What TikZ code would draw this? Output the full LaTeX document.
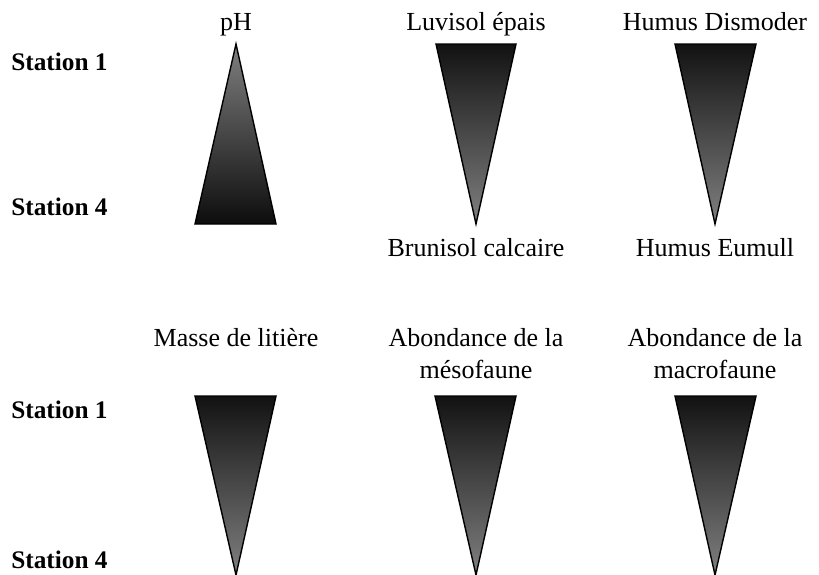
\documentclass[tikz,border=0pt]{standalone}
\usepackage{fontspec}
\setmainfont{Liberation Serif}
\usetikzlibrary{positioning}

\begin{document}
\begin{tikzpicture}[
  x=0.025cm, y=-0.025cm,
  station/.style={
    anchor=base west, inner sep=0pt,
    font=\fontsize{18}{22}\selectfont\bfseries
  },
  factor/.style={
    anchor=base, inner sep=0pt, align=center,
    font=\fontsize{18.5}{22.5}\selectfont
  },
  rising/.style={draw=black, line width=1pt, top color=black!50, bottom color=black!95},
  falling/.style={draw=black, line width=1pt, top color=black!93, bottom color=black!50}
]
\useasboundingbox (0,0) rectangle (819,574);

% Station labels
\node[station] (s1top) at (11,70) {Station 1};
\node[station] (s4top) at (11,215) {Station 4};
\node[station] (s1bot) at (11,418) {Station 1};
\node[station] (s4bot) at (11,568) {Station 4};

% Top row
\node[factor] (ph) at (236,30) {pH};
\path[rising] (236,44) -- (276,224) -- (195,224) -- cycle;

\node[factor] (luvisol) at (476,30) {Luvisol épais};
\path[falling] (436,44) -- (516,44) -- (476,224) -- cycle;
\node[factor] (brunisol) at (476,256) {Brunisol calcaire};

\node[factor] (dismoder) at (715,30) {Humus Dismoder};
\path[falling] (675,44) -- (756,44) -- (715,224) -- cycle;
\node[factor] (eumull) at (715,256) {Humus Eumull};

% Bottom row
\node[factor] (litiere) at (236,346) {Masse de litière};
\path[falling] (195,396) -- (276,396) -- (236,575) -- cycle;

\node[factor] (meso) at (476,378) {Abondance de la\\mésofaune};
\path[falling] (435,396) -- (516,396) -- (476,575) -- cycle;

\node[factor] (macro) at (715,378) {Abondance de la\\macrofaune};
\path[falling] (675,396) -- (756,396) -- (715,575) -- cycle;

\end{tikzpicture}
\end{document}
